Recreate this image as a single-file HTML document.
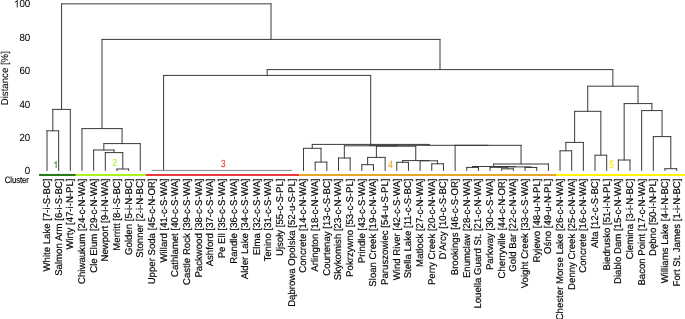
<!DOCTYPE html>
<html><head><meta charset="utf-8"><style>
html,body{margin:0;padding:0;background:#fff;width:685px;height:319px;overflow:hidden}
svg{display:block}
text{font-family:"Liberation Sans",sans-serif;text-rendering:geometricPrecision}
</style></head><body>
<svg width="685" height="319" viewBox="0 0 685 319">
<rect x="39.00" y="173.95" width="36.80" height="2.05" fill="#2a7a1c"/>
<rect x="75.80" y="173.95" width="70.25" height="2.05" fill="#aaf31f"/>
<rect x="146.05" y="173.95" width="153.25" height="2.05" fill="#e73a3e"/>
<rect x="299.30" y="173.95" width="257.20" height="2.05" fill="#e9a62a"/>
<rect x="556.50" y="173.95" width="128.50" height="2.05" fill="#fff600"/>
<path d="M47.00 170.50L47.00 130.80M58.66 170.50L58.66 130.80M47.00 130.80L58.66 130.80M52.83 130.80L52.83 109.40M70.32 170.50L70.32 109.40M52.83 109.40L70.32 109.40M116.96 170.50L116.96 169.00M128.62 170.50L128.62 169.00M116.96 169.00L128.62 169.00M105.30 170.50L105.30 152.60M122.79 169.00L122.79 152.60M105.30 152.60L122.79 152.60M93.64 170.50L93.64 150.00M114.05 152.60L114.05 150.00M93.64 150.00L114.05 150.00M103.84 150.00L103.84 143.60M140.28 170.50L140.28 143.60M103.84 143.60L140.28 143.60M81.98 170.50L81.98 128.60M122.06 143.60L122.06 128.60M81.98 128.60L122.06 128.60M315.18 170.50L315.18 162.10M326.84 170.50L326.84 162.10M315.18 162.10L326.84 162.10M303.52 170.50L303.52 148.30M321.01 162.10L321.01 148.30M303.52 148.30L321.01 148.30M338.50 170.50L338.50 158.00M350.16 170.50L350.16 158.00M338.50 158.00L350.16 158.00M361.82 170.50L361.82 164.70M373.48 170.50L373.48 164.70M361.82 164.70L373.48 164.70M367.65 164.70L367.65 157.40M385.14 170.50L385.14 157.40M367.65 157.40L385.14 157.40M396.80 170.50L396.80 162.30M408.46 170.50L408.46 162.30M396.80 162.30L408.46 162.30M431.78 170.50L431.78 163.80M443.44 170.50L443.44 163.80M431.78 163.80L443.44 163.80M420.12 170.50L420.12 160.80M437.61 163.80L437.61 160.80M420.12 160.80L437.61 160.80M402.63 162.30L402.63 160.60M402.63 160.60L428.87 160.60M376.39 157.40L376.39 146.20M415.75 160.60L415.75 146.20M376.39 146.20L415.75 146.20M344.33 158.00L344.33 145.80M396.07 146.20L396.07 145.80M344.33 145.80L396.07 145.80M466.76 170.50L466.76 167.40M478.42 170.50L478.42 167.40M466.76 167.40L478.42 167.40M501.74 170.50L501.74 168.80M513.40 170.50L513.40 168.80M501.74 168.80L513.40 168.80M490.08 170.50L490.08 167.30M507.57 168.80L507.57 167.30M490.08 167.30L507.57 167.30M525.06 170.50L525.06 167.50M536.72 170.50L536.72 167.50M525.06 167.50L536.72 167.50M498.82 167.30L498.82 166.90M530.89 167.50L530.89 166.90M498.82 166.90L530.89 166.90M472.59 167.40L472.59 166.50M514.86 166.90L514.86 166.50M472.59 166.50L514.86 166.50M493.72 166.50L493.72 164.00M548.38 170.50L548.38 164.00M493.72 164.00L548.38 164.00M455.10 170.50L455.10 145.30M521.05 164.00L521.05 145.30M455.10 145.30L521.05 145.30M370.20 145.80L370.20 145.30M370.20 145.30L488.08 145.30M312.26 148.30L312.26 144.40M429.14 145.30L429.14 144.40M312.26 144.40L429.14 144.40M163.60 170.41L163.60 75.40M370.70 144.40L370.70 75.40M163.60 75.40L370.70 75.40M560.04 170.50L560.04 150.80M571.70 170.50L571.70 150.80M560.04 150.80L571.70 150.80M565.87 150.80L565.87 142.40M583.36 170.50L583.36 142.40M565.87 142.40L583.36 142.40M595.02 170.50L595.02 155.20M606.68 170.50L606.68 155.20M595.02 155.20L606.68 155.20M574.62 142.40L574.62 111.30M600.85 155.20L600.85 111.30M574.62 111.30L600.85 111.30M618.34 170.50L618.34 160.00M630.00 170.50L630.00 160.00M618.34 160.00L630.00 160.00M664.98 170.50L664.98 168.70M676.64 170.50L676.64 168.70M664.98 168.70L676.64 168.70M653.32 170.50L653.32 136.60M670.81 168.70L670.81 136.60M653.32 136.60L670.81 136.60M641.66 170.50L641.66 110.60M662.07 136.60L662.07 110.60M641.66 110.60L662.07 110.60M624.17 160.00L624.17 103.60M651.86 110.60L651.86 103.60M624.17 103.60L651.86 103.60M587.73 111.30L587.73 86.20M638.02 103.60L638.02 86.20M587.73 86.20L638.02 86.20M267.15 75.40L267.15 69.60M612.87 86.20L612.87 69.60M267.15 69.60L612.87 69.60M102.02 128.60L102.02 39.40M440.01 69.60L440.01 39.40M102.02 39.40L440.01 39.40M61.57 109.40L61.57 3.85M271.02 39.40L271.02 3.85M61.57 3.85L271.02 3.85" stroke="#3a3a3a" stroke-width="1.00" fill="none" stroke-linecap="round"/>
<path d="M151.94 170.41L291.86 170.41" stroke="#8a8a8a" stroke-width="1.0" fill="none" stroke-linecap="round"/>
<g opacity="0.999" stroke-width="0.18">
<path transform="translate(53.22 167.90) scale(0.00436 -0.00459)" d="M763 0L583 0L583 1147Q518 1085 412 1023Q306 961 221 930L221 1104Q372 1175 485 1276Q598 1377 645 1472L763 1472Z" fill="#4a9a3e" stroke="#4a9a3e" stroke-width="65.4"/>
<text transform="translate(114.85 166.40) scale(0.780 1)" font-size="10.40" fill="#aaf31f" stroke="#aaf31f" stroke-width="0.15" text-anchor="middle">2</text>
<text transform="translate(223.20 166.50) scale(0.780 1)" font-size="10.40" fill="#e73a3e" stroke="#e73a3e" stroke-width="0.15" text-anchor="middle">3</text>
<text transform="translate(390.40 167.80) scale(0.780 1)" font-size="10.40" fill="#e9a62a" stroke="#e9a62a" stroke-width="0.15" text-anchor="middle">4</text>
<text transform="translate(611.50 167.60) scale(0.780 1)" font-size="10.40" fill="#fbea10" stroke="#fbea10" stroke-width="0.15" text-anchor="middle">5</text>
<path transform="translate(13.99 7.40) scale(0.00477 -0.00508)" d="M763 0L583 0L583 1147Q518 1085 412 1023Q306 961 221 930L221 1104Q372 1175 485 1276Q598 1377 645 1472L763 1472Z" fill="#000"/>
<text transform="translate(30.3 7.40) scale(0.94 1)" font-size="10.40" fill="#000" stroke="#000" stroke-width="0.05" text-anchor="end">00</text>
<text transform="translate(30.3 40.78) scale(0.94 1)" font-size="10.40" fill="#000" stroke="#000" stroke-width="0.05" text-anchor="end">80</text>
<text transform="translate(30.3 74.16) scale(0.94 1)" font-size="10.40" fill="#000" stroke="#000" stroke-width="0.05" text-anchor="end">60</text>
<text transform="translate(30.3 107.54) scale(0.94 1)" font-size="10.40" fill="#000" stroke="#000" stroke-width="0.05" text-anchor="end">40</text>
<text transform="translate(30.3 140.92) scale(0.94 1)" font-size="10.40" fill="#000" stroke="#000" stroke-width="0.05" text-anchor="end">20</text>
<text transform="translate(30.3 174.30) scale(0.94 1)" font-size="10.40" fill="#000" stroke="#000" stroke-width="0.05" text-anchor="end">0</text>
<text transform="translate(7.75 78.2) rotate(-90) scale(0.963 1)" font-size="10" fill="#000" stroke-width="0.08" stroke="#000" text-anchor="middle">Distance [%]</text>
<text transform="translate(28.9 183.1) scale(0.82 1)" font-size="9.3" fill="#000" stroke="#000" text-anchor="end">Cluster</text>
<text transform="translate(49.95 178.50) rotate(-90) scale(0.982 1)" font-size="9.80" fill="#000" stroke="#000" text-anchor="end">White Lake [7-i-S-BC]</text>
<text transform="translate(61.61 178.50) rotate(-90) scale(0.982 1)" font-size="9.80" fill="#000" stroke="#000" text-anchor="end">Salmon Arm [6-i-S-BC]</text>
<text transform="translate(73.27 178.50) rotate(-90) scale(0.982 1)" font-size="9.80" fill="#000" stroke="#000" text-anchor="end">Wirty [47-i-N-PL]</text>
<text transform="translate(84.93 178.50) rotate(-90) scale(0.982 1)" font-size="9.80" fill="#000" stroke="#000" text-anchor="end">Chiwaukum [24-c-N-WA]</text>
<text transform="translate(96.59 178.50) rotate(-90) scale(0.982 1)" font-size="9.80" fill="#000" stroke="#000" text-anchor="end">Cle Elum [29-c-N-WA]</text>
<text transform="translate(108.25 178.50) rotate(-90) scale(0.982 1)" font-size="9.80" fill="#000" stroke="#000" text-anchor="end">Newport [9-i-N-WA]</text>
<text transform="translate(119.91 178.50) rotate(-90) scale(0.982 1)" font-size="9.80" fill="#000" stroke="#000" text-anchor="end">Merritt [8-i-S-BC]</text>
<text transform="translate(131.57 178.50) rotate(-90) scale(0.982 1)" font-size="9.80" fill="#000" stroke="#000" text-anchor="end">Golden [5-i-N-BC]</text>
<text transform="translate(143.23 178.50) rotate(-90) scale(0.982 1)" font-size="9.80" fill="#000" stroke="#000" text-anchor="end">Stonner [2-i-N-BC]</text>
<text transform="translate(154.89 178.50) rotate(-90) scale(0.982 1)" font-size="9.80" fill="#000" stroke="#000" text-anchor="end">Upper Soda [45-c-N-OR]</text>
<text transform="translate(166.55 178.50) rotate(-90) scale(0.982 1)" font-size="9.80" fill="#000" stroke="#000" text-anchor="end">Willard [41-c-S-WA]</text>
<text transform="translate(178.21 178.50) rotate(-90) scale(0.982 1)" font-size="9.80" fill="#000" stroke="#000" text-anchor="end">Cathlamet [40-c-S-WA]</text>
<text transform="translate(189.87 178.50) rotate(-90) scale(0.982 1)" font-size="9.80" fill="#000" stroke="#000" text-anchor="end">Castle Rock [39-c-S-WA]</text>
<text transform="translate(201.53 178.50) rotate(-90) scale(0.982 1)" font-size="9.80" fill="#000" stroke="#000" text-anchor="end">Packwood [38-c-S-WA]</text>
<text transform="translate(213.19 178.50) rotate(-90) scale(0.982 1)" font-size="9.80" fill="#000" stroke="#000" text-anchor="end">Ashford [37-c-S-WA]</text>
<text transform="translate(224.85 178.50) rotate(-90) scale(0.982 1)" font-size="9.80" fill="#000" stroke="#000" text-anchor="end">Pe Ell [35-c-S-WA]</text>
<text transform="translate(236.51 178.50) rotate(-90) scale(0.982 1)" font-size="9.80" fill="#000" stroke="#000" text-anchor="end">Randle [36-c-S-WA]</text>
<text transform="translate(248.17 178.50) rotate(-90) scale(0.982 1)" font-size="9.80" fill="#000" stroke="#000" text-anchor="end">Alder Lake [34-c-S-WA]</text>
<text transform="translate(259.83 178.50) rotate(-90) scale(0.982 1)" font-size="9.80" fill="#000" stroke="#000" text-anchor="end">Elma [32-c-S-WA]</text>
<text transform="translate(271.49 178.50) rotate(-90) scale(0.982 1)" font-size="9.80" fill="#000" stroke="#000" text-anchor="end">Tenino [31-c-S-WA]</text>
<text transform="translate(283.15 178.50) rotate(-90) scale(0.982 1)" font-size="9.80" fill="#000" stroke="#000" text-anchor="end">Ujsoły [55-c-S-PL]</text>
<text transform="translate(294.81 178.50) rotate(-90) scale(0.982 1)" font-size="9.80" fill="#000" stroke="#000" text-anchor="end">Dąbrowa Opolska [52-u-S-PL]</text>
<text transform="translate(306.47 178.50) rotate(-90) scale(0.982 1)" font-size="9.80" fill="#000" stroke="#000" text-anchor="end">Concrete [14-c-N-WA]</text>
<text transform="translate(318.13 178.50) rotate(-90) scale(0.982 1)" font-size="9.80" fill="#000" stroke="#000" text-anchor="end">Arlington [18-c-N-WA]</text>
<text transform="translate(329.79 178.50) rotate(-90) scale(0.982 1)" font-size="9.80" fill="#000" stroke="#000" text-anchor="end">Courtenay [13-c-S-BC]</text>
<text transform="translate(341.45 178.50) rotate(-90) scale(0.982 1)" font-size="9.80" fill="#000" stroke="#000" text-anchor="end">Skykomish [23-c-N-WA]</text>
<text transform="translate(353.11 178.50) rotate(-90) scale(0.982 1)" font-size="9.80" fill="#000" stroke="#000" text-anchor="end">Pokrzywno [53-c-S-PL]</text>
<text transform="translate(364.77 178.50) rotate(-90) scale(0.982 1)" font-size="9.80" fill="#000" stroke="#000" text-anchor="end">Prindle [43-c-S-WA]</text>
<text transform="translate(376.43 178.50) rotate(-90) scale(0.982 1)" font-size="9.80" fill="#000" stroke="#000" text-anchor="end">Sloan Creek [19-c-N-WA]</text>
<text transform="translate(388.09 178.50) rotate(-90) scale(0.982 1)" font-size="9.80" fill="#000" stroke="#000" text-anchor="end">Paruszowiec [54-u-S-PL]</text>
<text transform="translate(399.75 178.50) rotate(-90) scale(0.982 1)" font-size="9.80" fill="#000" stroke="#000" text-anchor="end">Wind River [42-c-S-WA]</text>
<text transform="translate(411.41 178.50) rotate(-90) scale(0.982 1)" font-size="9.80" fill="#000" stroke="#000" text-anchor="end">Stella Lake [11-c-S-BC]</text>
<text transform="translate(423.07 178.50) rotate(-90) scale(0.982 1)" font-size="9.80" fill="#000" stroke="#000" text-anchor="end">Matlock [27-c-N-WA]</text>
<text transform="translate(434.73 178.50) rotate(-90) scale(0.982 1)" font-size="9.80" fill="#000" stroke="#000" text-anchor="end">Perry Creek [20-c-N-WA]</text>
<text transform="translate(446.39 178.50) rotate(-90) scale(0.982 1)" font-size="9.80" fill="#000" stroke="#000" text-anchor="end">D'Arcy [10-c-S-BC]</text>
<text transform="translate(458.05 178.50) rotate(-90) scale(0.982 1)" font-size="9.80" fill="#000" stroke="#000" text-anchor="end">Brookings [46-c-S-OR]</text>
<text transform="translate(469.71 178.50) rotate(-90) scale(0.982 1)" font-size="9.80" fill="#000" stroke="#000" text-anchor="end">Enumclaw [28-c-N-WA]</text>
<text transform="translate(481.37 178.50) rotate(-90) scale(0.982 1)" font-size="9.80" fill="#000" stroke="#000" text-anchor="end">Louella Guard St. [21-c-N-WA]</text>
<text transform="translate(493.03 178.50) rotate(-90) scale(0.982 1)" font-size="9.80" fill="#000" stroke="#000" text-anchor="end">Parkway [30-c-S-WA]</text>
<text transform="translate(504.69 178.50) rotate(-90) scale(0.982 1)" font-size="9.80" fill="#000" stroke="#000" text-anchor="end">Cherryville [44-c-N-OR]</text>
<text transform="translate(516.35 178.50) rotate(-90) scale(0.982 1)" font-size="9.80" fill="#000" stroke="#000" text-anchor="end">Gold Bar [22-c-N-WA]</text>
<text transform="translate(528.01 178.50) rotate(-90) scale(0.982 1)" font-size="9.80" fill="#000" stroke="#000" text-anchor="end">Voight Creek [33-c-S-WA]</text>
<text transform="translate(539.67 178.50) rotate(-90) scale(0.982 1)" font-size="9.80" fill="#000" stroke="#000" text-anchor="end">Ryjewo [48-u-N-PL]</text>
<text transform="translate(551.33 178.50) rotate(-90) scale(0.982 1)" font-size="9.80" fill="#000" stroke="#000" text-anchor="end">Ośno [49-u-N-PL]</text>
<text transform="translate(562.99 178.50) rotate(-90) scale(0.982 1)" font-size="9.80" fill="#000" stroke="#000" text-anchor="end">Chester Morse Lake [26-c-N-WA]</text>
<text transform="translate(574.65 178.50) rotate(-90) scale(0.982 1)" font-size="9.80" fill="#000" stroke="#000" text-anchor="end">Denny Creek [25-c-N-WA]</text>
<text transform="translate(586.31 178.50) rotate(-90) scale(0.982 1)" font-size="9.80" fill="#000" stroke="#000" text-anchor="end">Concrete [16-c-N-WA]</text>
<text transform="translate(597.97 178.50) rotate(-90) scale(0.982 1)" font-size="9.80" fill="#000" stroke="#000" text-anchor="end">Alta [12-c-S-BC]</text>
<text transform="translate(609.63 178.50) rotate(-90) scale(0.982 1)" font-size="9.80" fill="#000" stroke="#000" text-anchor="end">Biedrusko [51-i-N-PL]</text>
<text transform="translate(621.29 178.50) rotate(-90) scale(0.982 1)" font-size="9.80" fill="#000" stroke="#000" text-anchor="end">Diablo Dam [15-c-N-WA]</text>
<text transform="translate(632.95 178.50) rotate(-90) scale(0.982 1)" font-size="9.80" fill="#000" stroke="#000" text-anchor="end">Clemina [3-i-N-BC]</text>
<text transform="translate(644.61 178.50) rotate(-90) scale(0.982 1)" font-size="9.80" fill="#000" stroke="#000" text-anchor="end">Bacon Point [17-c-N-WA]</text>
<text transform="translate(656.27 178.50) rotate(-90) scale(0.982 1)" font-size="9.80" fill="#000" stroke="#000" text-anchor="end">Dębno [50-i-N-PL]</text>
<text transform="translate(667.93 178.50) rotate(-90) scale(0.982 1)" font-size="9.80" fill="#000" stroke="#000" text-anchor="end">Williams Lake [4-i-N-BC]</text>
<text transform="translate(679.59 178.50) rotate(-90) scale(0.982 1)" font-size="9.80" fill="#000" stroke="#000" text-anchor="end">Fort St. James [1-i-N-BC]</text>
</g>
</svg></body></html>
